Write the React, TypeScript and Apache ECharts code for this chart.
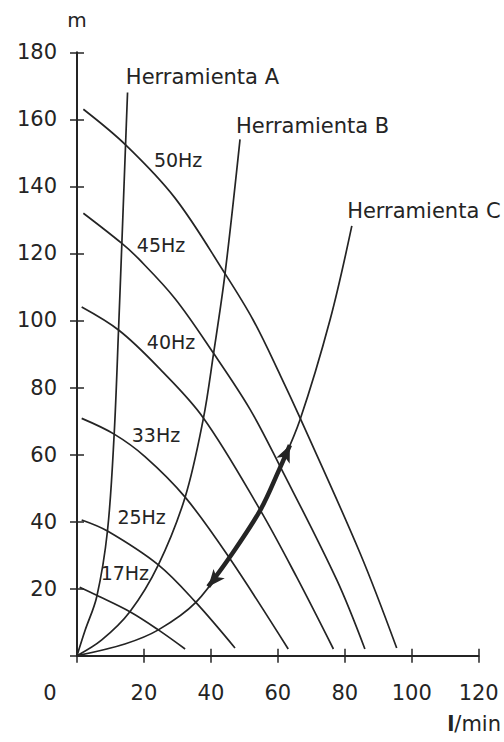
import React, { useEffect, useRef } from 'react';
import * as echarts from 'echarts';

const FONT = 'DejaVu Sans';
const INK = '#242424';

// axes
const X_MIN = 0;
const X_MAX = 120;
const X_STEP = 20;
const Y_MIN = 0;
const Y_MAX = 180;
const Y_STEP = 20;
const Y_UNIT = 'm';

// pump curves (flow l/min, head m)
const PUMP_NAMES = ['50Hz', '45Hz', '40Hz', '33Hz', '25Hz', '17Hz'];
const PUMP_50 = [[1.9, 163], [14.6, 152.3], [29.3, 136.5], [44.2, 114], [52.7, 100], [60.8, 83.5], [66.6, 71], [84.6, 30.5], [95.5, 2.3]];
const PUMP_45 = [[1.9, 132], [13.4, 123], [18.3, 118.5], [29.3, 106.5], [40.8, 90.2], [51.7, 73.5], [60.4, 57], [77.6, 22.6], [86, 2]];
const PUMP_40 = [[1.4, 104], [12.6, 97], [24.3, 86], [37.7, 71], [54.7, 43.5], [65.6, 23.5], [76.6, 2]];
const PUMP_33 = [[1.4, 70.8], [11.1, 66.1], [20.3, 59.4], [32.3, 47.3], [45.5, 29.2], [63.1, 2]];
const PUMP_25 = [[1.4, 40.5], [9.1, 37.2], [24.3, 27.1], [35.5, 15.9], [47.2, 2.3]];
const PUMP_17 = [[0.8, 20.4], [5.9, 18.0], [15.8, 13.1], [24.3, 7.7], [32.3, 2]];

// tool (system) curves
const TOOL_NAMES = ['Herramienta A', 'Herramienta B', 'Herramienta C'];
const TOOL_A = [[0, 0], [2.4, 7.5], [5.9, 17.6], [9.1, 37.2], [11.1, 66], [12.4, 97], [13.4, 123], [14.5, 152.3], [15.1, 168]];
const TOOL_B = [[0, 0], [7.4, 4.7], [15.8, 13.1], [24.3, 27.1], [32.3, 47.3], [37.7, 70.5], [40.8, 90.2], [44.2, 113.8], [48.7, 154]];
const TOOL_C = [[0, 0], [14.3, 3.5], [24.3, 7.7], [35.5, 15.9], [45.5, 29.2], [54.8, 43.5], [60.4, 55.5], [66.6, 70.3], [75.6, 100.2], [82.1, 128.2]];

// operating range arrow along tool C
const RANGE_C = [[39.2, 20.6], [45.5, 29.2], [54.8, 43.5], [60.4, 55.5], [63.6, 62.8]];

// label anchors (layout, data coords)
const PUMP_LABEL_AT = [[30.2, 147.8], [25.1, 122.5], [28.1, 93.6], [23.6, 65.8], [19.3, 41.4], [14.3, 24.7]];
const TOOL_LABEL_AT = [[14.6, 172.6], [47.5, 158], [80.7, 132.7]];

export default function App() {
  const ref = useRef<HTMLDivElement>(null);

  useEffect(() => {
    document.body.style.margin = '0';
    const chart = echarts.init(ref.current!, null, { renderer: 'svg' });

    const curveStyle = { color: INK, width: 1.7 };
    const pumps = [PUMP_50, PUMP_45, PUMP_40, PUMP_33, PUMP_25, PUMP_17];
    const tools = [TOOL_A, TOOL_B, TOOL_C];

    const pumpSeries = pumps.map((d, i) => ({
      name: PUMP_NAMES[i],
      type: 'line',
      data: d,
      showSymbol: false,
      smooth: 0.35,
      lineStyle: curveStyle,
      silent: true,
      markPoint: {
        symbol: 'circle',
        symbolSize: 0,
        silent: true,
        data: [{ coord: PUMP_LABEL_AT[i], value: PUMP_NAMES[i] }],
        label: {
          show: true,
          position: 'inside',
          formatter: PUMP_NAMES[i],
          fontFamily: FONT,
          fontSize: 19,
          color: INK,
        },
      },
    }));

    const toolSeries = tools.map((d, i) => ({
      name: TOOL_NAMES[i],
      type: 'line',
      data: d,
      showSymbol: false,
      smooth: 0.35,
      lineStyle: curveStyle,
      silent: true,
      markPoint: {
        symbol: 'circle',
        symbolSize: 0,
        silent: true,
        data: [{ coord: TOOL_LABEL_AT[i], value: TOOL_NAMES[i] }],
        label: {
          show: true,
          position: 'right',
          distance: 0,
          formatter: TOOL_NAMES[i],
          fontFamily: FONT,
          fontSize: 21,
          color: INK,
        },
      },
    }));

    const last = RANGE_C.length - 1;
    const arrowSeries = {
      name: 'rango',
      type: 'line',
      smooth: 0.35,
      symbol: 'arrow',
      showSymbol: true,
      showAllSymbol: true,
      silent: true,
      itemStyle: { color: INK },
      lineStyle: { color: INK, width: 4.5 },
      data: RANGE_C.map((p, i) => {
        if (i === 0) return { value: p, symbol: 'arrow', symbolSize: [11, 17], symbolRotate: 140 };
        if (i === last) return { value: p, symbol: 'arrow', symbolSize: [11, 17], symbolRotate: -24 };
        return { value: p, symbol: 'none' };
      }),
    };

    const baseX = { type: 'value', min: X_MIN, max: X_MAX, interval: X_STEP, splitLine: { show: false } };
    const baseY = { type: 'value', min: Y_MIN, max: Y_MAX, interval: Y_STEP, splitLine: { show: false } };
    const tickStyle = { color: INK, width: 1.5 };

    chart.setOption({
      animation: false,
      backgroundColor: '#ffffff',
      grid: { left: 77, right: 25.3, top: 52.3, bottom: 86.3, containLabel: false },
      xAxis: [
        {
          ...baseX,
          position: 'bottom',
          axisLine: { show: true, onZero: false, lineStyle: { color: INK, width: 2 } },
          axisTick: { show: true, inside: false, length: 7, lineStyle: tickStyle },
          axisLabel: {
            margin: 27,
            fontFamily: FONT,
            fontSize: 21,
            color: INK,
            formatter: (v: number) => (v === 0 ? '{z|0}' : String(v)),
            rich: { z: { padding: [0, 54, 0, 0], fontFamily: FONT, fontSize: 21, color: INK } },
          },
        },
        {
          ...baseX,
          position: 'bottom',
          axisLine: { show: false },
          axisTick: { show: true, inside: true, length: 7, lineStyle: tickStyle },
          axisLabel: { show: false },
        },
      ],
      yAxis: [
        {
          ...baseY,
          position: 'left',
          name: Y_UNIT,
          nameLocation: 'end',
          nameGap: 22,
          nameTextStyle: { fontFamily: FONT, fontSize: 20, color: INK, align: 'center' },
          axisLine: { show: true, onZero: false, lineStyle: { color: INK, width: 2 } },
          axisTick: { show: true, inside: false, length: 7, lineStyle: tickStyle },
          axisLabel: {
            margin: 20,
            fontFamily: FONT,
            fontSize: 21,
            color: INK,
            padding: [9, 0, 0, 0],
            formatter: (v: number) => (v === 0 ? '' : String(v)),
          },
        },
        {
          ...baseY,
          position: 'left',
          axisLine: { show: false },
          axisTick: { show: true, inside: true, length: 7, lineStyle: tickStyle },
          axisLabel: { show: false },
        },
      ],
      graphic: [
        {
          type: 'text',
          right: 3,
          top: 713,
          style: {
            text: '{b|l}/min',
            fontFamily: FONT,
            fontSize: 21,
            fill: INK,
            rich: { b: { fontWeight: 'bold', fontFamily: FONT, fontSize: 21, fill: INK } },
          },
        },
      ],
      series: [...pumpSeries, ...toolSeries, arrowSeries],
    });

    return () => chart.dispose();
  }, []);

  return <div ref={ref} style={{ width: 504, height: 742 }} />;
}
